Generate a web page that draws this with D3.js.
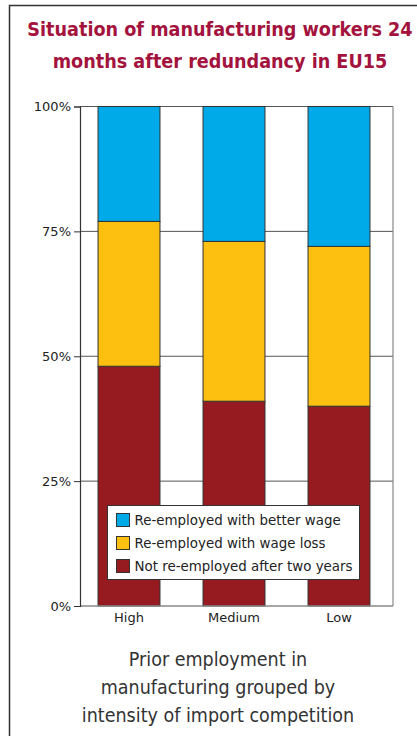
<!DOCTYPE html>
<html>
<head>
<meta charset="utf-8">
<script src="https://cdn.jsdelivr.net/npm/d3@7"></script>
<style>
  body { margin: 0; background: #fff; }
  svg { display: block; }
</style>
</head>
<body>
<svg id="chart"></svg>
<script>
// data
var categories = ["High", "Medium", "Low"]
var notReemployed = [48, 41, 40]
var wageLoss = [29, 32, 32]
var betterWage = [23, 27, 28]
var seriesNames = ["Re-employed with better wage", "Re-employed with wage loss", "Not re-employed after two years"]
var tickValues = [0, 25, 50, 75, 100]

var width = 417
var height = 736

var colors = {
  "Not re-employed after two years": "#951b20",
  "Re-employed with wage loss": "#fdc010",
  "Re-employed with better wage": "#00a9e8"
}

var rows = categories.map((c, i) => ({
  cat: c,
  "Not re-employed after two years": notReemployed[i],
  "Re-employed with wage loss": wageLoss[i],
  "Re-employed with better wage": betterWage[i]
}))

var stackKeys = ["Not re-employed after two years", "Re-employed with wage loss", "Re-employed with better wage"]
var stacked = d3.stack().keys(stackKeys)(rows)

var svg = d3.select("#chart").attr("width", width).attr("height", height)

// outer frame
svg.append("rect")
  .attr("x", 9.5).attr("y", 5.5)
  .attr("width", 500).attr("height", 800)
  .attr("fill", "none")
  .attr("stroke", "#333")
  .attr("stroke-width", 1.5)

// title
var title = svg.append("text")
  .attr("text-anchor", "middle")
  .attr("fill", "#a3133d")
  .style("font-family", "'DejaVu Sans Condensed', 'DejaVu Sans', sans-serif")
  .style("font-weight", "bold")
  .style("font-size", "19.6px")
title.append("tspan").attr("x", 220).attr("y", 36).text("Situation of manufacturing workers 24")
title.append("tspan").attr("x", 220).attr("y", 68).text("months after redundancy in EU15")

var plotLeft = 80, plotRight = 393, plotTop = 106.5, plotBottom = 606

var y = d3.scaleLinear().domain([0, 100]).range([plotBottom, plotTop])
var x = d3.scaleBand().domain(categories).range([76.5, 391.5]).paddingInner(0.41).paddingOuter(0.205)

// grid lines
svg.append("g")
  .selectAll("line")
  .data(tickValues.filter(t => t > 0))
  .enter().append("line")
  .attr("x1", plotLeft).attr("x2", plotRight)
  .attr("y1", d => y(d)).attr("y2", d => y(d))
  .attr("stroke", "#555")
  .attr("stroke-width", 1)

// right border
svg.append("line")
  .attr("x1", plotRight).attr("x2", plotRight)
  .attr("y1", plotTop).attr("y2", plotBottom)
  .attr("stroke", "#888").attr("stroke-width", 1.2)

// bars
svg.append("g")
  .selectAll("g")
  .data(stacked)
  .enter().append("g")
  .attr("fill", d => colors[d.key])
  .selectAll("rect")
  .data(d => d)
  .enter().append("rect")
  .attr("x", d => x(d.data.cat))
  .attr("width", x.bandwidth())
  .attr("y", d => y(d[1]))
  .attr("height", d => y(d[0]) - y(d[1]))
  .attr("stroke", "#333")
  .attr("stroke-width", 1)

// bottom axis line
svg.append("line")
  .attr("x1", plotLeft).attr("x2", plotRight)
  .attr("y1", plotBottom).attr("y2", plotBottom)
  .attr("stroke", "#888").attr("stroke-width", 1.5)

// y axis
var yAxis = d3.axisLeft(y).tickValues(tickValues).tickSize(6).tickPadding(3).tickFormat(d => d + "%")
var yg = svg.append("g")
  .attr("transform", `translate(${plotLeft},0)`)
  .call(yAxis)
yg.select(".domain").attr("stroke", "#333").attr("stroke-width", 1.2)
yg.selectAll(".tick line").attr("stroke", "#333")
yg.selectAll("text")
  .attr("fill", "#222")
  .style("font-family", "'DejaVu Sans', sans-serif")
  .style("font-size", "13px")

// x labels
var xAxis = d3.axisBottom(x).tickSize(0).tickPadding(7)
var xg = svg.append("g")
  .attr("transform", `translate(0,${plotBottom})`)
  .call(xAxis)
xg.select(".domain").remove()
xg.selectAll("text")
  .attr("fill", "#222")
  .style("font-family", "'DejaVu Sans', sans-serif")
  .style("font-size", "13px")

// legend
var legend = svg.append("g").attr("transform", "translate(107.5,505.5)")
legend.append("rect")
  .attr("width", 252).attr("height", 74)
  .attr("fill", "#fff")
  .attr("stroke", "#333").attr("stroke-width", 1)

var items = legend.selectAll(".item")
  .data(seriesNames)
  .enter().append("g")
  .attr("transform", (d, i) => `translate(9,${8 + i * 23})`)
items.append("rect")
  .attr("width", 13).attr("height", 13)
  .attr("fill", d => colors[d])
  .attr("stroke", "#333").attr("stroke-width", 1)
items.append("text")
  .attr("x", 18).attr("y", 11.5)
  .attr("fill", "#222")
  .style("font-family", "'DejaVu Sans', sans-serif")
  .style("font-size", "13.4px")
  .text(d => d)

// bottom caption
var caption = svg.append("text")
  .attr("text-anchor", "middle")
  .attr("fill", "#333")
  .style("font-family", "'DejaVu Sans Condensed', 'DejaVu Sans', sans-serif")
  .style("font-size", "19.5px")
var capLines = ["Prior employment in", "manufacturing grouped by", "intensity of import competition"]
capLines.forEach((t, i) => {
  caption.append("tspan").attr("x", 218).attr("y", 666 + i * 28).text(t)
})
</script>
</body>
</html>
